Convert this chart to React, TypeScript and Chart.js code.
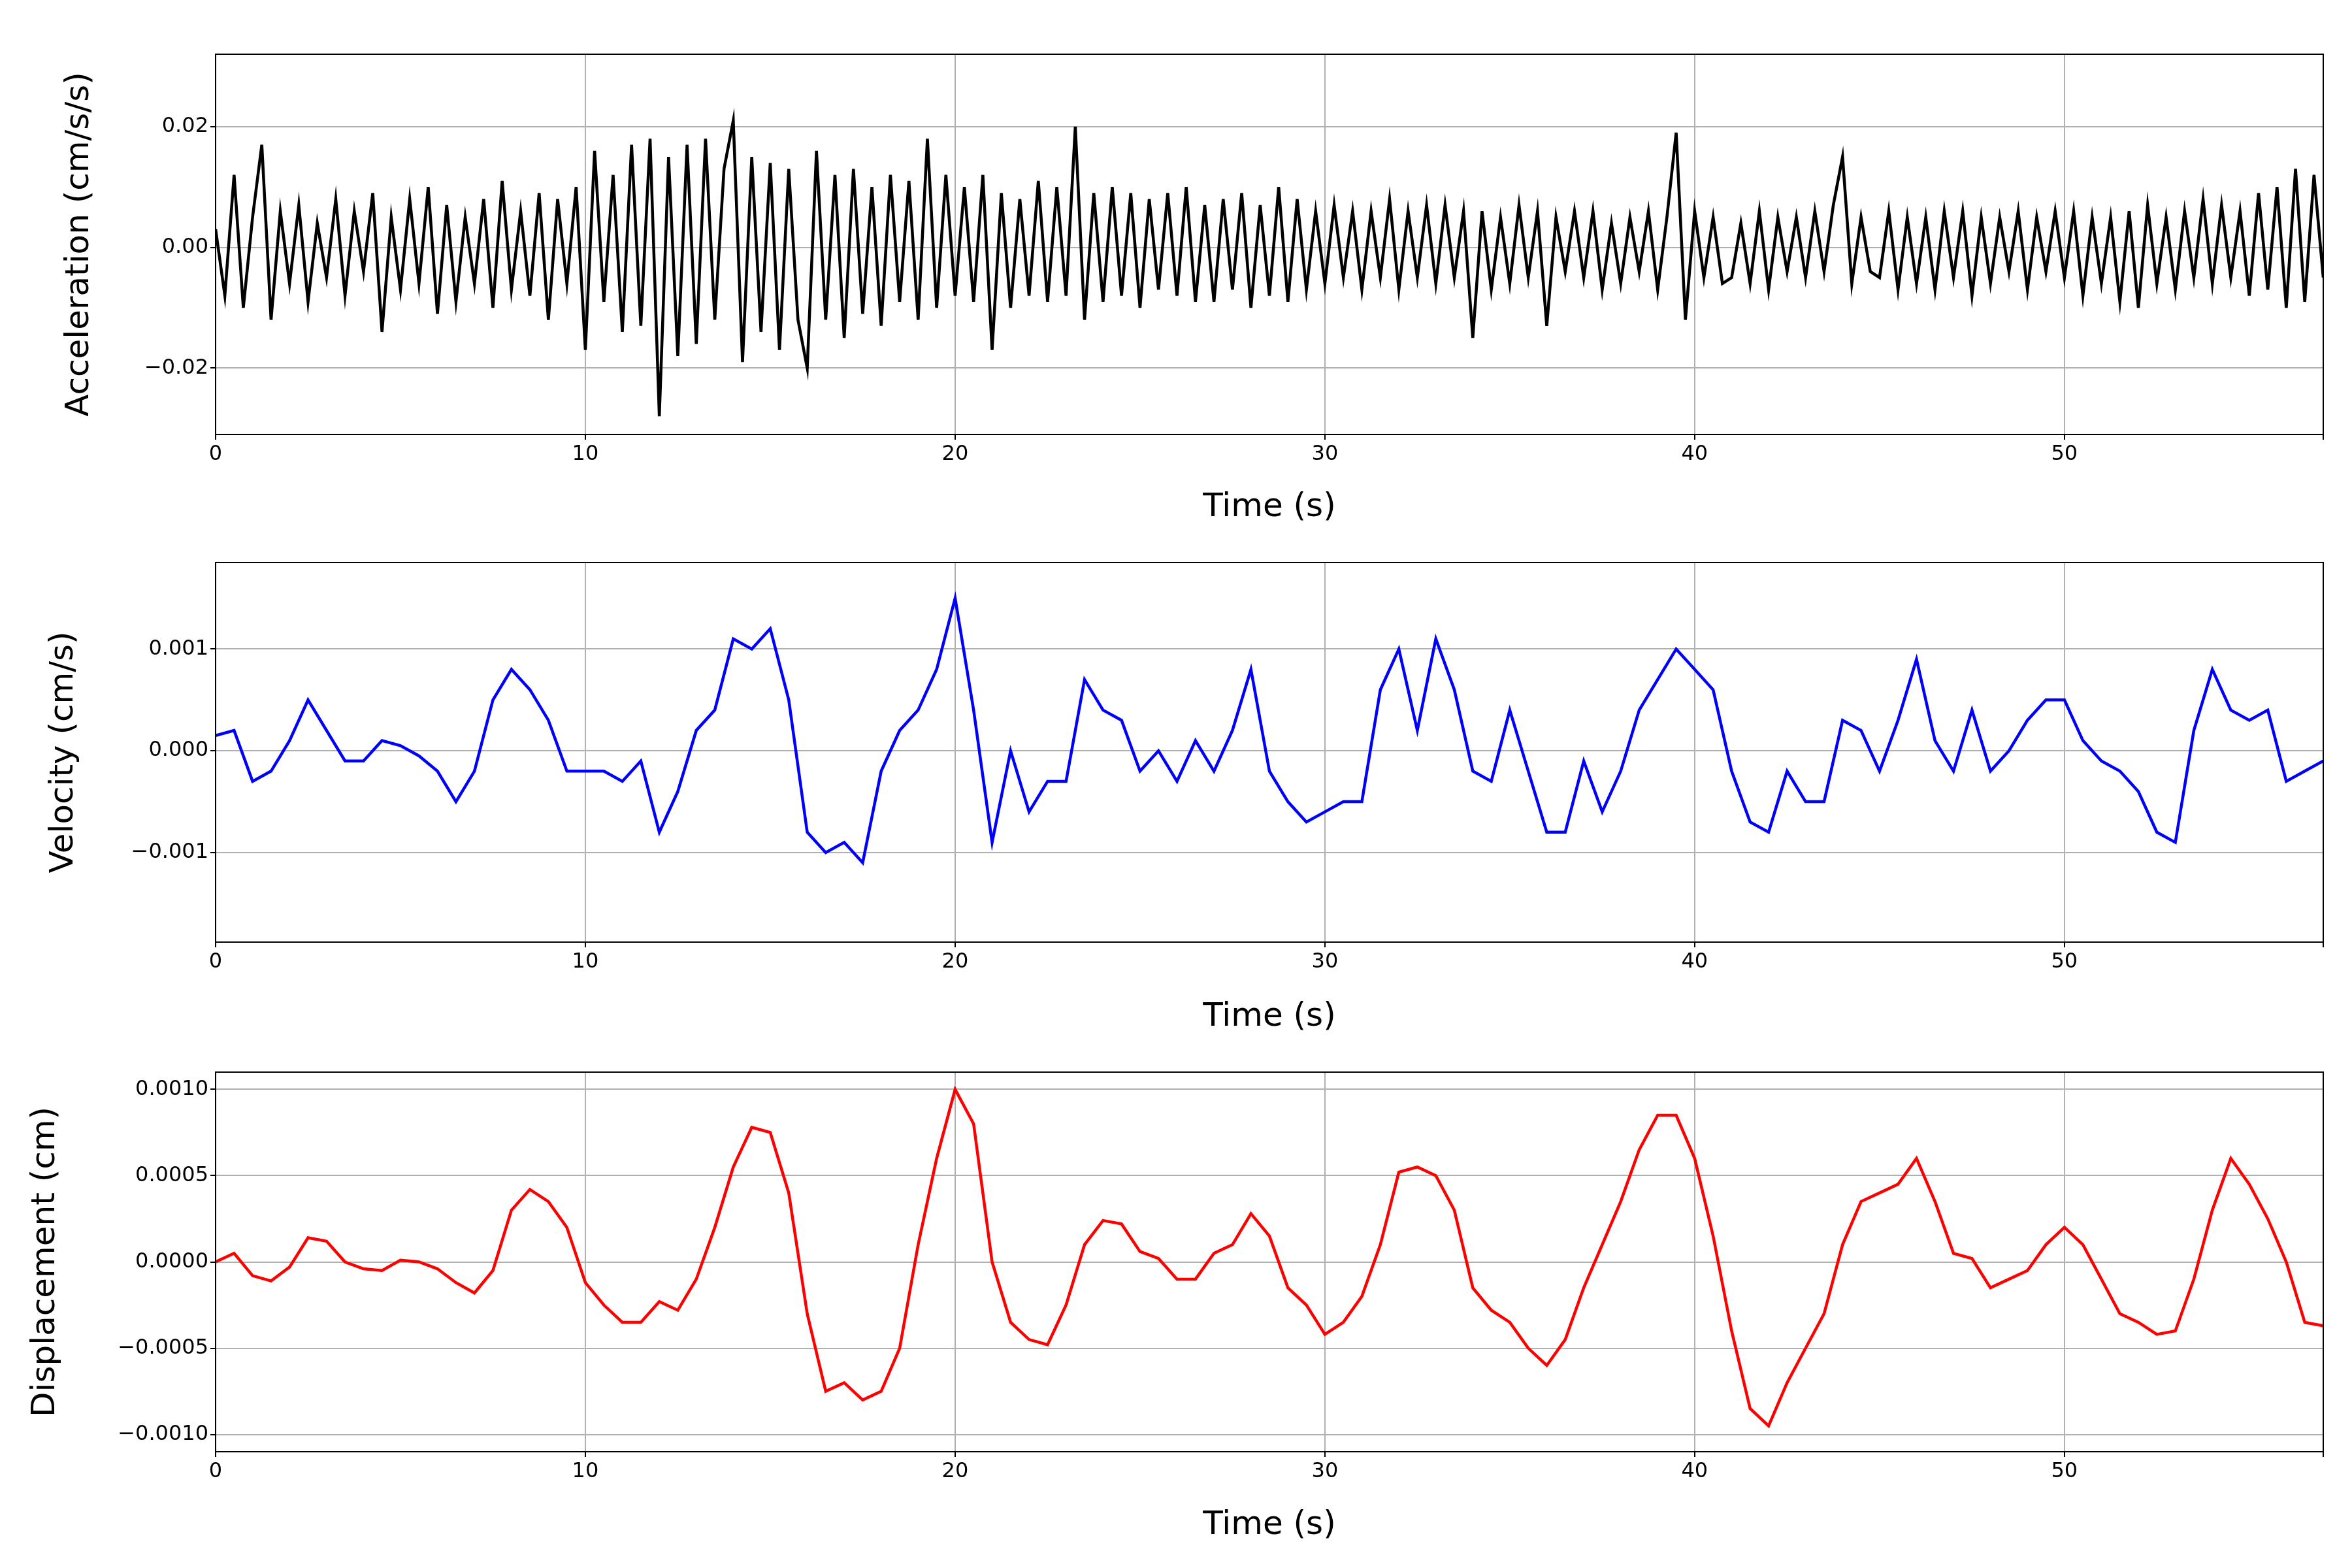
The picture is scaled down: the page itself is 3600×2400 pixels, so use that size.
import React, { useEffect, useRef } from "react";
import { Chart, registerables } from "chart.js";
Chart.register(...registerables);

const ACC_STEP = 0.25;
const accel = [
  3,-8,12,-10, 5,17,-12,6, -6,7,-9,4, -5,8,-8,6, -4,9,-14,5, -7,8,-6,10, -11,7,-9,5, -6,8,-10,11,
  -7,6,-8,9, -12,8,-6,10, -17,16,-9,12, -14,17,-13,18, -28,15,-18,17, -16,18,-12,13, 21,-19,15,-14,
  14,-17,13,-12, -20,16,-12,12, -15,13,-11,10, -13,12,-9,11, -12,18,-10,12, -8,10,-9,12, -17,9,-10,8,
  -8,11,-9,10, -8,20,-12,9, -9,10,-8,9, -10,8,-7,9, -8,10,-9,7, -9,8,-7,9, -10,7,-8,10, -9,8,-7,6,
  -6,7,-5,6, -7,6,-5,8, -7,6,-5,7, -6,7,-5,6, -15,6,-7,5, -6,7,-5,6, -13,5,-4,6, -5,6,-7,4, -6,5,-4,6,
  -7,5,19,-12, 6,-5,5,-6, -5,4,-6,6, -7,5,-4,5, -5,6,-4,7, 15,-6,5,-4, -5,6,-7,5, -6,5,-7,6, -5,6,-8,5,
  -6,5,-4,6, -7,5,-4,6, -5,6,-8,5, -6,5,-9,6, -10,7,-6,5, -7,6,-5,8, -6,7,-5,6, -8,9,-7,10, -10,13,-9,12, -5,
];
const VD_STEP = 0.5;
const velocity = [
  1.5,2,-3,-2,1,5,2,-1,-1,1,0.5,-0.5,-2,-5,-2,5,8,6,3,-2,-2,-2,-3,-1,-8,-4,2,4,11,10,12,5,-8,-10,-9,-11,
  -2,2,4,8,15,4,-9,0,-6,-3,-3,7,4,3,-2,0,-3,1,-2,2,8,-2,-5,-7,-6,-5,-5,6,10,2,11,6,-2,-3,4,-2,-8,-8,-1,-6,
  -2,4,7,10,8,6,-2,-7,-8,-2,-5,-5,3,2,-2,3,9,1,-2,4,-2,0,3,5,5,1,-1,-2,-4,-8,-9,2,8,4,3,4,-3,-2,-1,
];
const displacement = [
  0,0.5,-0.8,-1.1,-0.3,1.4,1.2,0,-0.4,-0.5,0.1,0,-0.4,-1.2,-1.8,-0.5,3,4.2,3.5,2,-1.2,-2.5,-3.5,-3.5,-2.3,-2.8,
  -1,2,5.5,7.8,7.5,4,-3,-7.5,-7,-8,-7.5,-5,1,6,10,8,0,-3.5,-4.5,-4.8,-2.5,1,2.4,2.2,0.6,0.2,-1,-1,0.5,1,2.8,1.5,
  -1.5,-2.5,-4.2,-3.5,-2,1,5.2,5.5,5,3,-1.5,-2.8,-3.5,-5,-6,-4.5,-1.5,1,3.5,6.5,8.5,8.5,6,1.5,-4,-8.5,-9.5,-7,
  -5,-3,1,3.5,4,4.5,6,3.5,0.5,0.2,-1.5,-1,-0.5,1,2,1,-1,-3,-3.5,-4.2,-4,-1,3,6,4.5,2.5,0,-3.5,-3.7,
];

const FONT = "DejaVu Sans";
const fmt = (v: number, d: number) => (v < 0 ? "\u2212" : "") + Math.abs(v).toFixed(d);

function Panel(props: { vals: number[]; step: number; scale: number; color: string; title: string;
  min: number; max: number; tstep: number; dec: number; h: number; top: number; xh: number; bottom: number; tpad: number }) {
  const ref = useRef<HTMLCanvasElement>(null);
  useEffect(() => {
    const p = props;
    const data = p.vals.map((v, i) => ({ x: i * p.step, y: v * p.scale }));
    const grid = { color: "#b0b0b0", lineWidth: 2, drawTicks: true, tickLength: 8, tickColor: "#000" };
    const chart = new Chart(ref.current!, {
      type: "line",
      data: { datasets: [{ data, borderColor: p.color, borderWidth: 4.5, pointRadius: 0, tension: 0 }] },
      options: {
        animation: false, responsive: false,
        layout: { padding: { top: p.top, right: 44, left: 0, bottom: p.bottom } },
        plugins: { legend: { display: false }, tooltip: { enabled: false } },
        scales: {
          x: {
            type: "linear", min: 0, max: 57, border: { color: "#000", width: 2 }, grid,
            ticks: { stepSize: 10, color: "#000", font: { family: FONT, size: 32 }, maxRotation: 0,
              callback: (v: any) => (v % 10 === 0 ? String(v) : "") },
            title: { display: true, text: "Time (s)", color: "#000", font: { family: FONT, size: 50 }, padding: { top: 4 } },
            afterFit: (s: any) => { s.height = p.xh; },
          },
          y: {
            min: p.min, max: p.max, border: { color: "#000", width: 2 }, grid,
            afterBuildTicks: (s: any) => {
              const t = [];
              for (let v = Math.ceil(p.min / p.tstep) * p.tstep; v <= p.max + 1e-12; v += p.tstep) t.push({ value: +v.toFixed(8) });
              s.ticks = t;
            },
            ticks: { color: "#000", font: { family: FONT, size: 32 }, callback: (v: any) => fmt(Number(v), p.dec) },
            title: { display: true, text: p.title, color: "#000", font: { family: FONT, size: 50 }, padding: { top: p.tpad, bottom: 8 } },
            afterFit: (s: any) => { s.width = 330; },
          },
        },
      },
      plugins: [{
        id: "frame", afterDraw: (c: any) => {
          const a = c.chartArea, g = c.ctx; g.save(); g.strokeStyle = "#000"; g.lineWidth = 2;
          g.strokeRect(a.left, a.top, a.right - a.left, a.bottom - a.top); g.restore();
        },
      }],
    } as any);
    return () => chart.destroy();
  }, []);
  return <canvas ref={ref} width={3600} height={props.h} style={{ display: "block" }} />;
}

export default function App() {
  return (
    <div style={{ position: "absolute", left: 0, top: 0, width: 3600, height: 2400, background: "#fff" }}>
      <Panel vals={accel} step={ACC_STEP} scale={1e-3} color="#000" title="Acceleration (cm/s/s)" min={-0.031} max={0.032} tstep={0.02} dec={2} h={820} top={83} xh={146} bottom={9} tpad={92} />
      <Panel vals={velocity} step={VD_STEP} scale={1e-4} color="#0000ff" title="Velocity (cm/s)" min={-0.00188} max={0.00185} tstep={0.001} dec={3} h={780} top={41} xh={149} bottom={9} tpad={68} />
      <Panel vals={displacement} step={VD_STEP} scale={1e-4} color="#ff0000" title="Displacement (cm)" min={-0.0011} max={0.0011} tstep={0.0005} dec={4} h={800} top={41} xh={147} bottom={31} tpad={40} />
    </div>
  );
}
